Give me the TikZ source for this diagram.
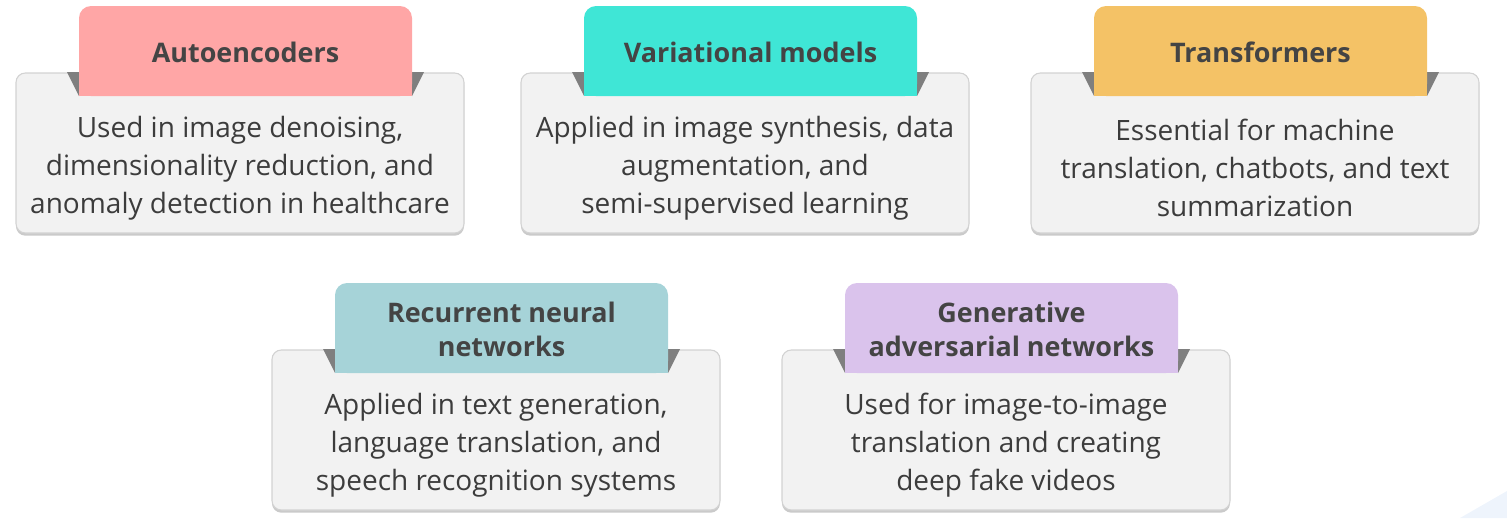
\documentclass[tikz,border=0pt]{standalone}
\usepackage{fontspec}
\setmainfont{Open Sans}
\usetikzlibrary{shadows}
\definecolor{boxfill}{HTML}{F2F2F2}
\definecolor{boxline}{HTML}{D2D2D2}
\definecolor{tri}{HTML}{7F7F7F}
\definecolor{txt}{HTML}{3C3C3C}
\definecolor{titletxt}{HTML}{444444}
\definecolor{faint}{HTML}{EEF4FC}
\definecolor{cA}{HTML}{FFA6A6}
\definecolor{cB}{HTML}{3FE6D6}
\definecolor{cC}{HTML}{F4C266}
\definecolor{cD}{HTML}{A6D3D8}
\definecolor{cE}{HTML}{DAC3EC}
\tikzset{
  cardbox/.style={draw=boxline, line width=0.8pt, fill=boxfill, rounded corners=7pt,
    minimum width=336pt, minimum height=120pt, inner sep=0pt,
    drop shadow={shadow xshift=0pt, shadow yshift=-2pt, opacity=0.35, fill=black!60}},
  titletext/.style={text=titletxt, font=\bfseries\fontsize{20.2}{25.5}\selectfont, align=center, inner sep=0pt},
  bodytext/.style={text=txt, font=\fontsize{21}{28.5}\selectfont, align=center, inner sep=0pt},
}
\newcommand\mkcard[6]{%
  \pgfmathsetmacro\kL{#2}\pgfmathsetmacro\kT{#3}%
  \pgfmathsetmacro\kR{#2+448}\pgfmathsetmacro\kB{#3+160}%
  \pgfmathsetmacro\kC{#2+224}%
  \pgfmathsetmacro\kTL{#2+63}\pgfmathsetmacro\kTR{#2+396}%
  \pgfmathsetmacro\kTT{#3-67}\pgfmathsetmacro\kTB{#3+23}%
  \node[cardbox] (#1box) at (\kC,{#3+80}) {};
  \fill[tri] ({\kTL-12},{\kT-1}) -- (\kTL,{\kT-1}) -- (\kTL,\kTB) -- cycle;
  \fill[tri] ({\kTR+12},{\kT-1}) -- (\kTR,{\kT-1}) -- (\kTR,\kTB) -- cycle;
  \fill[#4, rounded corners=9pt] (\kTL,\kTT) rectangle (\kTR,\kTB);
  \fill[#4] (\kTL,{\kTT+20}) rectangle (\kTR,\kTB);
  \node[titletext] (#1) at ({(\kTL+\kTR)/2},{(\kTT+\kTB)/2+1.5}) {#5};
  \node[bodytext] (#1body) at (\kC,{(\kTB+\kB)/2+3.5}) {#6};
}
\begin{document}
\begin{tikzpicture}[x=0.75pt,y=-0.75pt]
\useasboundingbox (0,0) rectangle (1507,518);
\fill[faint] (1460,518) -- (1507,491) -- (1507,518) -- cycle;
\mkcard{ae}{16}{73}{cA}{Autoencoders}{Used in image denoising,\\dimensionality reduction, and\\anomaly detection in healthcare}
\mkcard{vm}{521}{73}{cB}{Variational models}{Applied in image synthesis, data\\augmentation, and\\semi-supervised learning}
\mkcard{tf}{1031}{73}{cC}{Transformers}{Essential for machine\\translation, chatbots, and text\\summarization}
\mkcard{rnn}{272}{350}{cD}{Recurrent neural\\networks}{Applied in text generation,\\language translation, and\\speech recognition systems}
\mkcard{gan}{782}{350}{cE}{Generative\\adversarial networks}{Used for image-to-image\\translation and creating\\deep fake videos}
\end{tikzpicture}
\end{document}
